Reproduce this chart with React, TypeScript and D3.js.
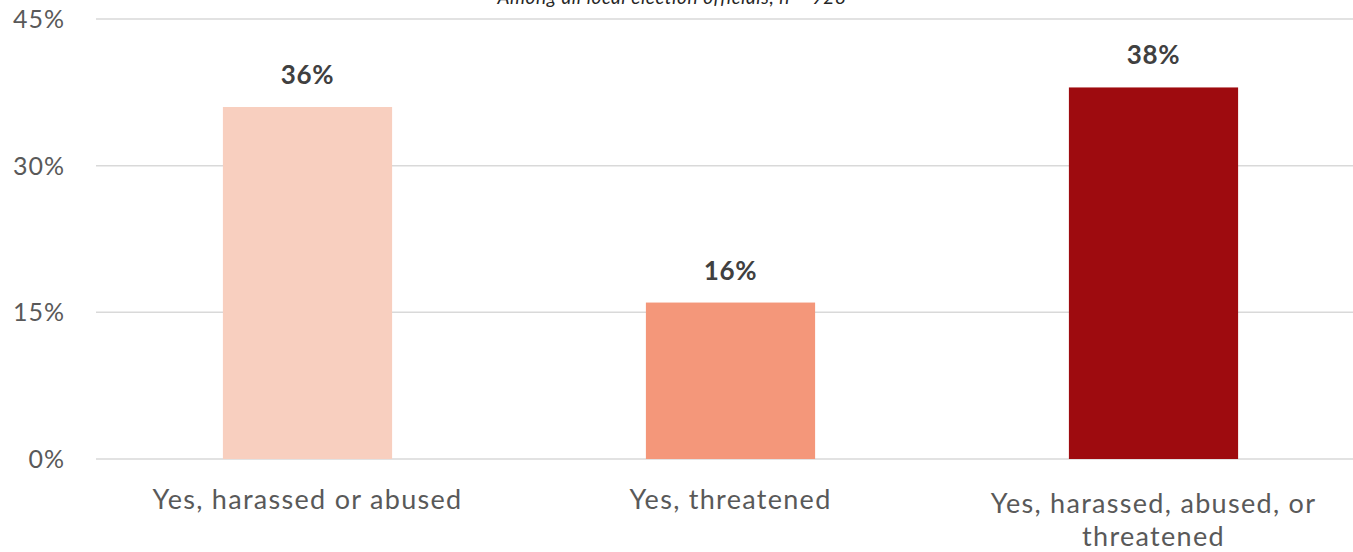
import React from "react";
import * as d3 from "d3";

const categories: string[][] = [
  ["Yes, harassed or abused"],
  ["Yes, threatened"],
  ["Yes, harassed, abused, or", "threatened"],
];
const values: number[] = [36, 16, 38];
const barColors: string[] = ["#F8CFBF", "#F4977A", "#9E0B0F"];
const yTicks: number[] = [0, 15, 30, 45];
const subtitle = "Among all local election officials, n = 928";

const W = 1353;
const H = 552;
const FONT = "Lato, 'Open Sans', sans-serif";

export default function App() {
  const x = d3
    .scaleBand<number>()
    .domain(values.map((_, i) => i))
    .range([96, 1365])
    .paddingInner(0.6)
    .paddingOuter(0.3);
  const y = d3.scaleLinear().domain([0, 45]).range([459, 19]);

  return (
    <svg
      width={W}
      height={H}
      style={{ position: "absolute", left: 0, top: 0, background: "#fff" }}
      fontFamily={FONT}
    >
      <text
        x={672}
        y={4}
        textAnchor="middle"
        fontSize={19}
        letterSpacing={0.6}
        fontStyle="italic"
        fill="#262626"
      >
        {subtitle}
      </text>
      {yTicks.map((t) => (
        <g key={t}>
          <line x1={96} x2={W} y1={y(t)} y2={y(t)} stroke="#D9D9D9" strokeWidth={1.5} />
          <text
            x={65}
            y={y(t) + 9}
            textAnchor="end"
            fontSize={25}
            letterSpacing={1}
            fill="#595959"
          >
            {t}%
          </text>
        </g>
      ))}
      {values.map((v, i) => (
        <g key={i}>
          <rect
            x={x(i)}
            y={y(v)}
            width={x.bandwidth()}
            height={y(0) - y(v)}
            fill={barColors[i]}
          />
          <text
            x={(x(i) as number) + x.bandwidth() / 2}
            y={y(v) - 23}
            textAnchor="middle"
            fontSize={26}
            letterSpacing={0.6}
            fontWeight="bold"
            fill="#404040"
          >
            {v}%
          </text>
          {categories[i].map((line, j) => (
            <text
              key={j}
              x={(x(i) as number) + x.bandwidth() / 2}
              y={(categories[i].length > 1 ? 513 : 509) + j * 33}
              textAnchor="middle"
              fontSize={27}
              letterSpacing={1.3}
              fill="#595959"
            >
              {line}
            </text>
          ))}
        </g>
      ))}
    </svg>
  );
}
